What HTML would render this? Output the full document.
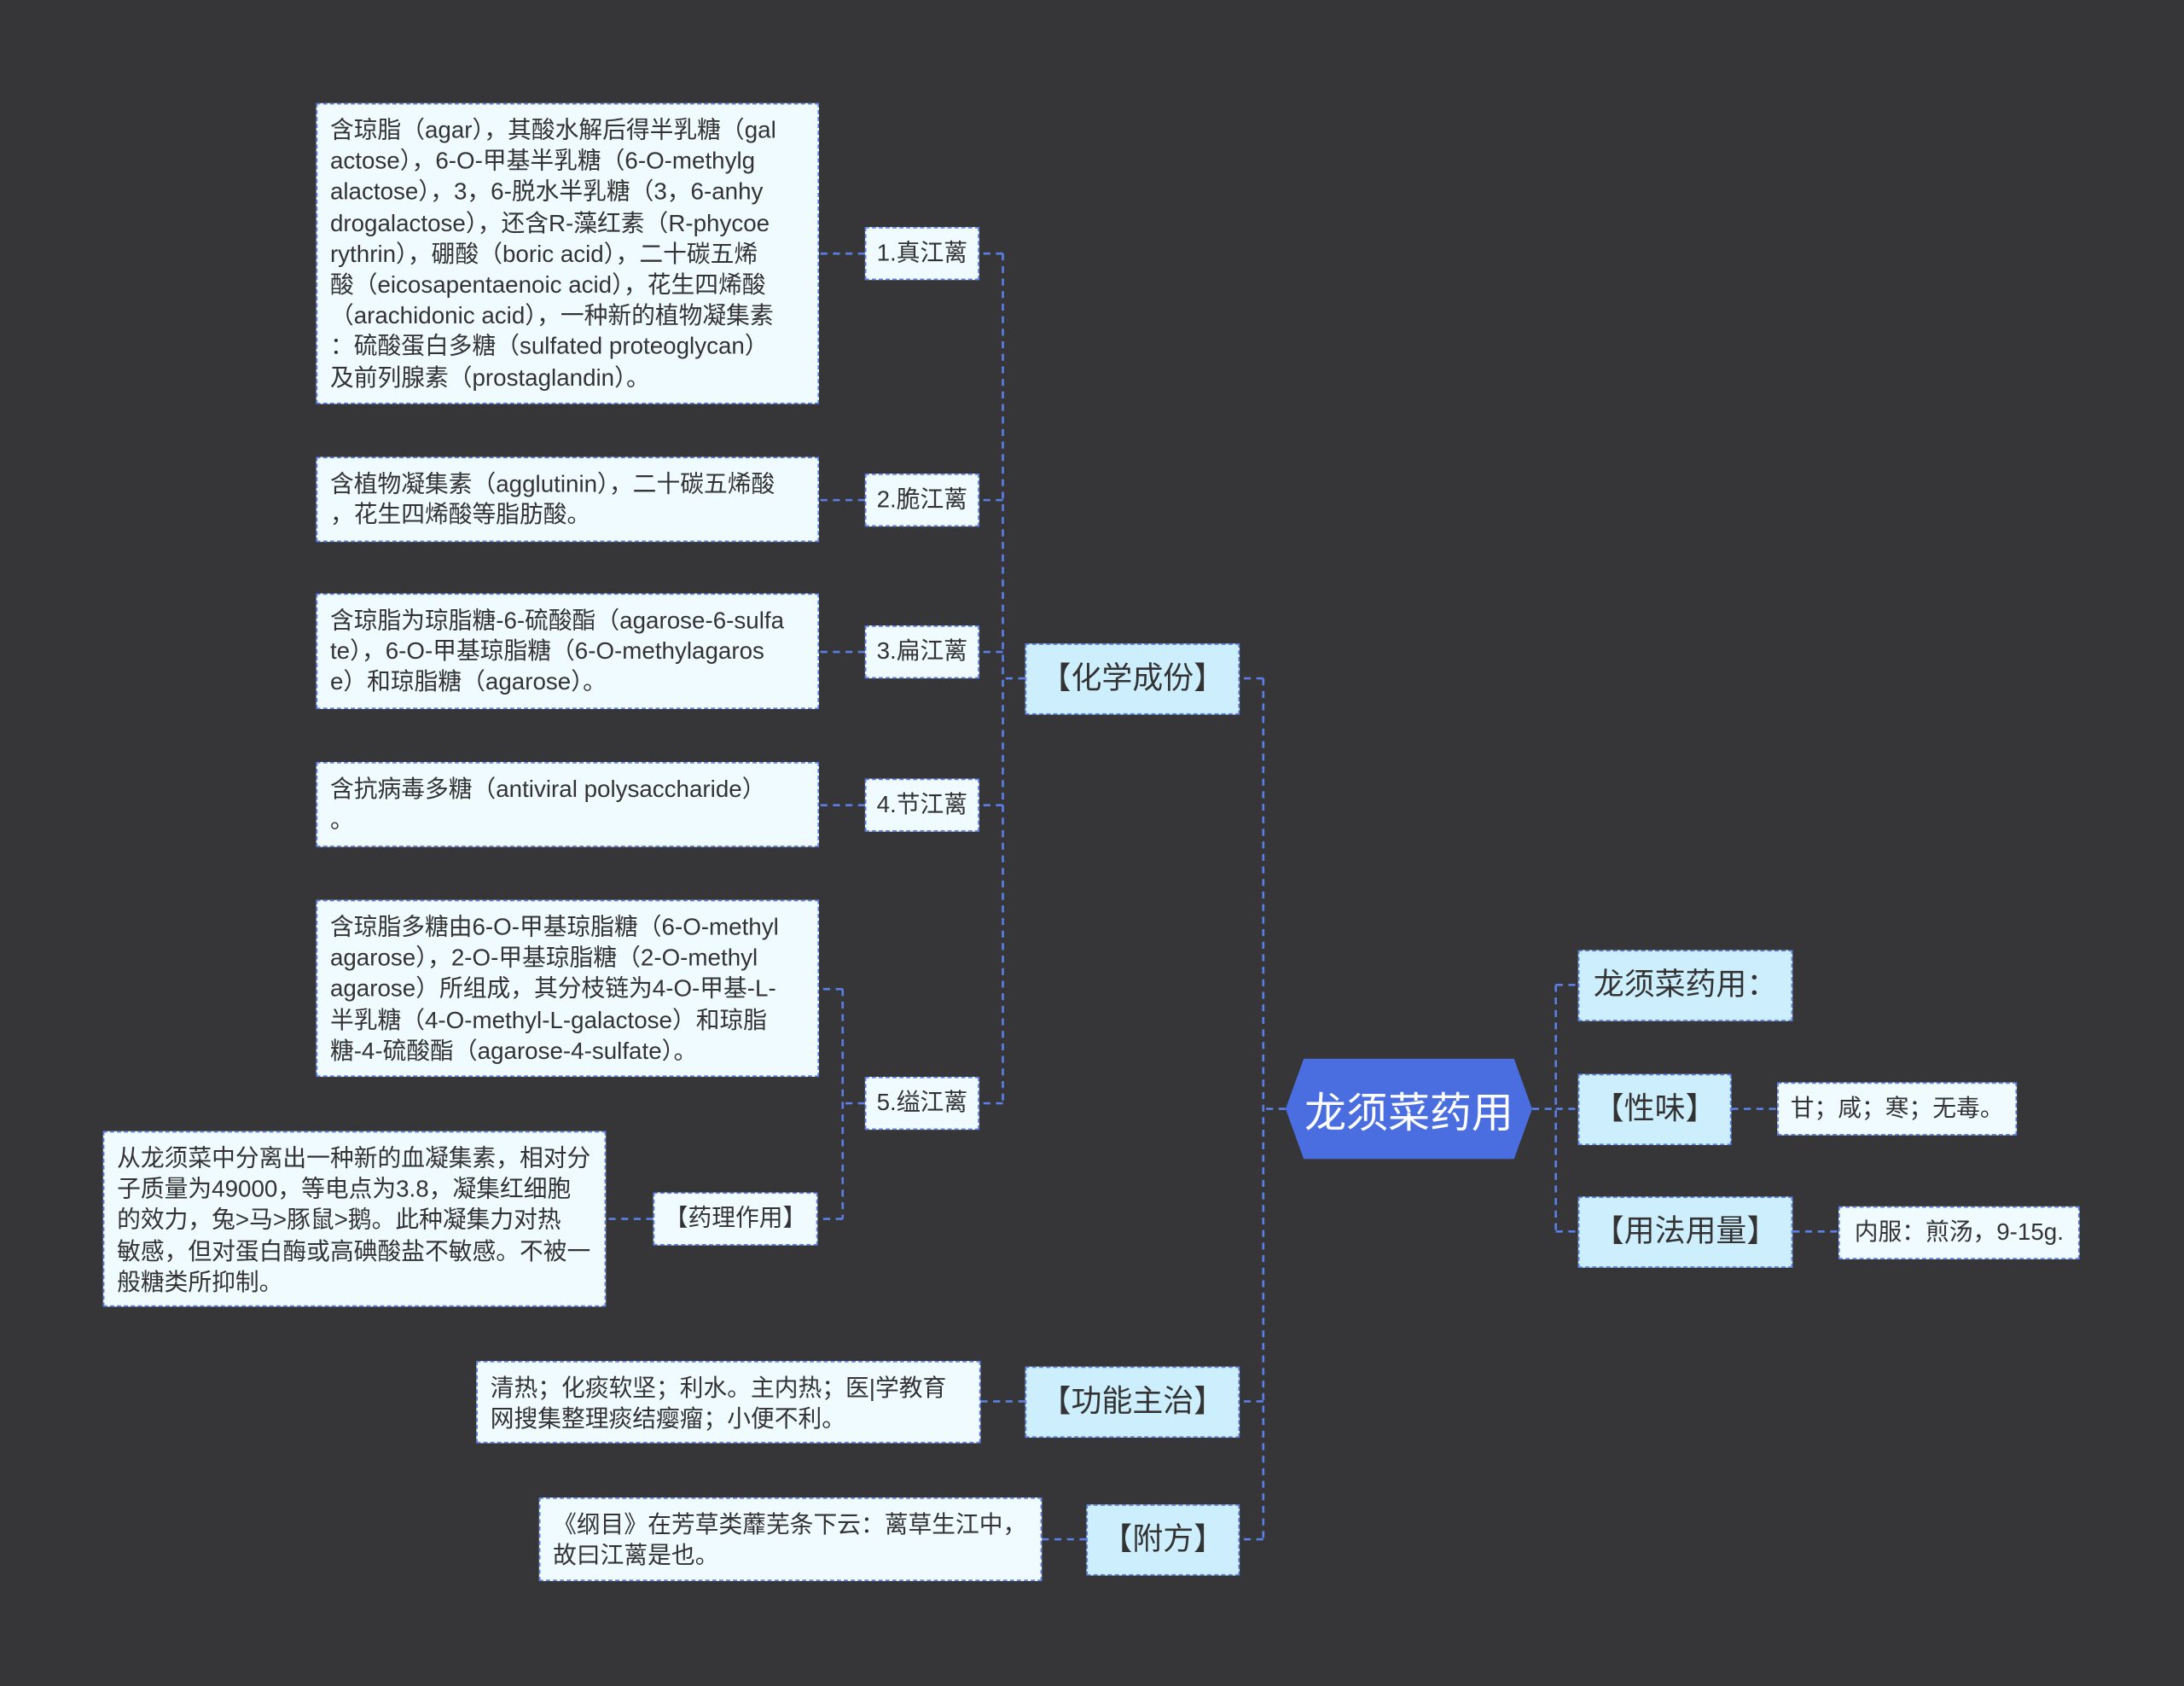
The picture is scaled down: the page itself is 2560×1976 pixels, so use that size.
<!DOCTYPE html>
<html><head><meta charset="utf-8">
<style>
html,body{margin:0;padding:0;background:#363537;overflow:hidden;}
#wrap{position:absolute;left:0;top:0;width:1568px;height:1210px;transform:scale(1.632653);transform-origin:0 0;background:#363537;}
.b{position:absolute;box-sizing:border-box;background:#f0fbff;border:1px dashed #5b7fe6;color:#333;font-family:"Liberation Sans","Noto Sans CJK SC",sans-serif;font-size:17px;line-height:22.2px;padding:8px 9px;white-space:nowrap;}
.s{display:flex;align-items:center;justify-content:center;padding:0;}
.m{background:#cdeffd;font-size:22px;display:flex;align-items:center;justify-content:center;padding:0;}
svg{position:absolute;left:0;top:0;}
.root{position:absolute;left:923px;top:760px;width:177px;height:72px;display:flex;align-items:center;justify-content:center;color:#fff;font-size:30px;font-family:"Liberation Sans","Noto Sans CJK SC",sans-serif;}
</style></head><body><div id="wrap">
<svg width="1568" height="1210"><g stroke="#5b7fe6" stroke-width="1.6" stroke-dasharray="5,4" fill="none">
<path d="M923 796H907M907 487V1105M907 487H890M907 1006H890M907 1105H890"/>
<path d="M1100 796H1117M1117 707V884M1117 707H1133M1117 796H1133M1117 884H1133M1243 796H1276M1287 884H1320"/>
<path d="M736 487H720M720 182V792M720 182H703M720 359H703M720 468H703M720 578H703M720 792H703"/>
<path d="M621 182H588M621 359H588M621 468H588M621 578H588"/>
<path d="M621 792H605M605 710V875M605 710H588M605 875H587M469 875H435"/>
<path d="M736 1006H704M780 1105H748"/>
</g>
<polygon points="936,760 1087,760 1100,796 1087,832 936,832 923,796" fill="#4a6ee0"/>
</svg>
<div class="root">龙须菜药用</div>
<div class="b m" style="left:1133px;top:682px;width:154px;height:51px;justify-content:flex-start;padding-left:10px">龙须菜药用：</div>
<div class="b m" style="left:1133px;top:771px;width:110px;height:51px">【性味】</div>
<div class="b s" style="left:1276px;top:777px;width:172px;height:38px">甘；咸；寒；无毒。</div>
<div class="b m" style="left:1133px;top:859px;width:154px;height:51px">【用法用量】</div>
<div class="b s" style="left:1320px;top:866px;width:173px;height:38px">内服：煎汤，9-15g.</div>
<div class="b m" style="left:736px;top:462px;width:154px;height:51px">【化学成份】</div>
<div class="b m" style="left:736px;top:981px;width:154px;height:51px">【功能主治】</div>
<div class="b m" style="left:780px;top:1080px;width:110px;height:51px">【附方】</div>
<div class="b s" style="left:621px;top:163px;width:82px;height:38px">1.真江蓠</div>
<div class="b s" style="left:621px;top:340px;width:82px;height:38px">2.脆江蓠</div>
<div class="b s" style="left:621px;top:449px;width:82px;height:38px">3.扁江蓠</div>
<div class="b s" style="left:621px;top:559px;width:82px;height:38px">4.节江蓠</div>
<div class="b s" style="left:621px;top:773px;width:82px;height:38px">5.缢江蓠</div>
<div class="b s" style="left:469px;top:856px;width:118px;height:38px">【药理作用】</div>
<div class="b" style="left:227px;top:74px;width:361px;height:216px">含琼脂（agar），其酸水解后得半乳糖（gal<br>actose），6-O-甲基半乳糖（6-O-methylg<br>alactose），3，6-脱水半乳糖（3，6-anhy<br>drogalactose），还含R-藻红素（R-phycoe<br>rythrin），硼酸（boric acid），二十碳五烯<br>酸（eicosapentaenoic acid），花生四烯酸<br>（arachidonic acid），一种新的植物凝集素<br>：硫酸蛋白多糖（sulfated proteoglycan）<br>及前列腺素（prostaglandin）。</div>
<div class="b" style="left:227px;top:328px;width:361px;height:61px">含植物凝集素（agglutinin），二十碳五烯酸<br>，花生四烯酸等脂肪酸。</div>
<div class="b" style="left:227px;top:426px;width:361px;height:83px">含琼脂为琼脂糖-6-硫酸酯（agarose-6-sulfa<br>te），6-O-甲基琼脂糖（6-O-methylagaros<br>e）和琼脂糖（agarose）。</div>
<div class="b" style="left:227px;top:547px;width:361px;height:61px">含抗病毒多糖（antiviral polysaccharide）<br>。</div>
<div class="b" style="left:227px;top:646px;width:361px;height:127px">含琼脂多糖由6-O-甲基琼脂糖（6-O-methyl<br>agarose），2-O-甲基琼脂糖（2-O-methyl<br>agarose）所组成，其分枝链为4-O-甲基-L-<br>半乳糖（4-O-methyl-L-galactose）和琼脂<br>糖-4-硫酸酯（agarose-4-sulfate）。</div>
<div class="b" style="left:74px;top:812px;width:361px;height:126px">从龙须菜中分离出一种新的血凝集素，相对分<br>子质量为49000，等电点为3.8，凝集红细胞<br>的效力，兔&gt;马&gt;豚鼠&gt;鹅。此种凝集力对热<br>敏感，但对蛋白酶或高碘酸盐不敏感。不被一<br>般糖类所抑制。</div>
<div class="b" style="left:342px;top:977px;width:362px;height:59px">清热；化痰软坚；利水。主内热；医|学教育<br>网搜集整理痰结瘿瘤；小便不利。</div>
<div class="b" style="left:387px;top:1075px;width:361px;height:60px">《纲目》在芳草类蘼芜条下云：蓠草生江中，<br>故曰江蓠是也。</div>
</div></body></html>
